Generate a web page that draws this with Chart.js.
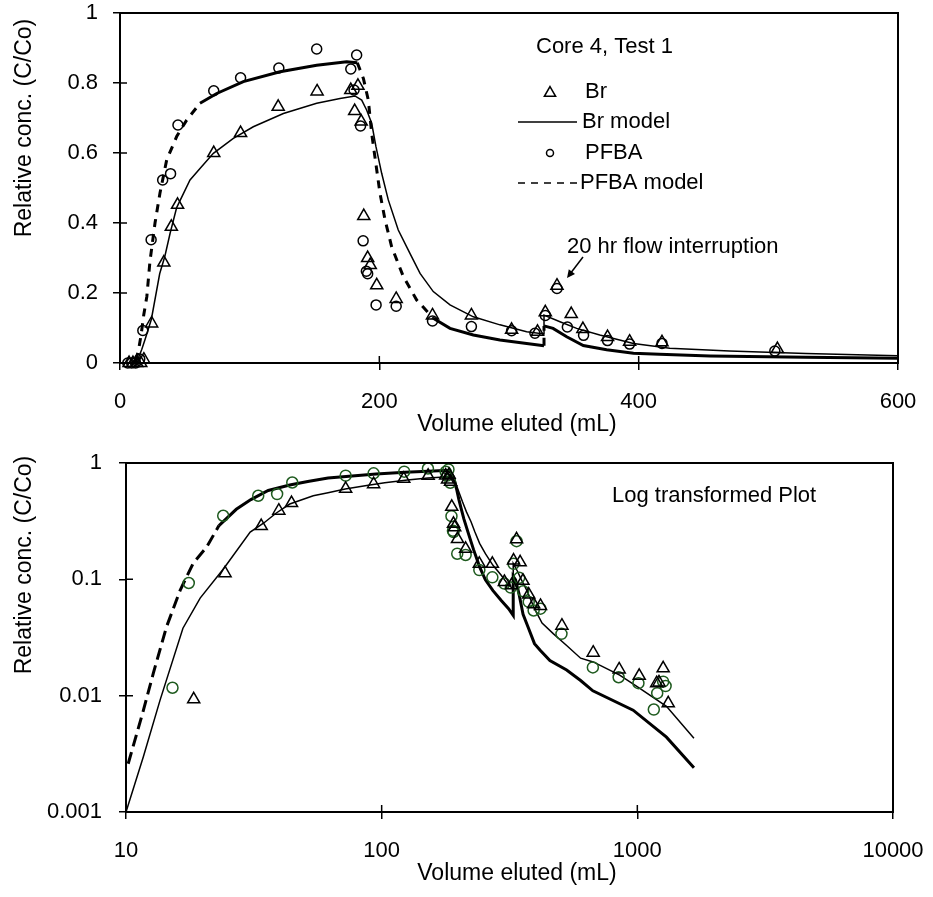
<!DOCTYPE html>
<html lang="en">
<head>
<meta charset="utf-8">
<title>Core 4, Test 1 breakthrough curves</title>
<script src="https://cdn.jsdelivr.net/npm/chart.js@4.4.1/dist/chart.umd.min.js"></script>
<style>
  html, body { margin: 0; padding: 0; background: #fff; }
  #page { position: relative; width: 933px; height: 897px; overflow: hidden; }
  #page canvas { position: absolute; left: 0; }
  #linChart { top: 0; }
  #logChart { top: 450px; }
</style>
</head>
<body>
<div id="page">
  <canvas id="linChart" width="933" height="450"></canvas>
  <canvas id="logChart" width="933" height="447"></canvas>
</div>
<script>
// Core 4, Test 1
// volume eluted in mL, relative concentration C/Co

const brVol  = [7, 10, 13, 16, 18.4, 24.4, 33.8, 39.6, 44.4, 72.3, 93, 122, 152, 178, 183.5, 181, 186, 188, 191, 193, 198, 213, 241, 271, 302, 322, 328, 337, 348, 357, 376, 393, 418, 507, 672, 849, 1017, 1190, 1215, 1262, 1321];
const brConc = [0, 0, 0, 0, 0.0093, 0.113, 0.287, 0.389, 0.452, 0.6, 0.657, 0.732, 0.776, 0.78, 0.792, 0.72, 0.69, 0.42, 0.3, 0.28, 0.222, 0.183, 0.136, 0.136, 0.095, 0.089, 0.145, 0.221, 0.14, 0.097, 0.074, 0.061, 0.059, 0.04, 0.0234, 0.0168, 0.0148, 0.0128, 0.013, 0.0172, 0.0086];

const pfbaVol  = [6, 9, 12, 15.2, 17.6, 24, 32.9, 39, 44.7, 72.3, 93, 122.5, 151.7, 178, 182.5, 180.5, 185.5, 187.5, 190, 191, 197.5, 213, 241, 271, 302, 320, 328, 337, 345, 357.5, 376, 393, 418, 505, 670, 845, 1010, 1160, 1196, 1262, 1290];
const pfbaConc = [0, 0, 0, 0.0117, 0.093, 0.352, 0.523, 0.541, 0.68, 0.778, 0.815, 0.843, 0.897, 0.84, 0.88, 0.78, 0.677, 0.349, 0.262, 0.255, 0.166, 0.162, 0.12, 0.104, 0.092, 0.085, 0.136, 0.213, 0.103, 0.079, 0.064, 0.054, 0.056, 0.034, 0.0175, 0.0144, 0.0128, 0.0076, 0.0105, 0.0132, 0.0121];

const brModelVol  = [10, 11.7, 13.6, 16.7, 19.5, 24.2, 30.6, 34.6, 38.6, 43.7, 54, 61.7, 72, 87.4, 102.8, 126, 151.7, 169.7, 181.2, 186.4, 190.2, 194.1, 197.4, 201.8, 206.9, 214.6, 223.6, 231.4, 241.6, 254.5, 272.5, 293, 313.6, 327, 327, 339.3, 352.2, 370, 396, 424, 470, 529, 600, 672, 853, 1019, 1300, 1665];
const brModelConc = [0.001, 0.003, 0.0092, 0.038, 0.069, 0.125, 0.255, 0.305, 0.37, 0.444, 0.523, 0.556, 0.599, 0.642, 0.675, 0.713, 0.742, 0.756, 0.763, 0.751, 0.723, 0.685, 0.618, 0.542, 0.466, 0.38, 0.313, 0.256, 0.204, 0.166, 0.132, 0.109, 0.089, 0.083, 0.137, 0.118, 0.099, 0.08, 0.056, 0.042, 0.034, 0.027, 0.021, 0.0195, 0.015, 0.0116, 0.0081, 0.0043];

const pfbaModelVol  = [10.2, 11.7, 12.8, 14.4, 16.3, 18.3, 20.7, 23.1, 27, 30.8, 36, 43.7, 51.4, 61.7, 74.6, 95.1, 123.4, 151.7, 174.8, 183, 187.7, 191.5, 194.1, 196.6, 200.5, 204.4, 209.5, 218.5, 228.8, 241.6, 254.5, 272.5, 293, 313.6, 327, 327, 334, 344.5, 357.3, 375.3, 396, 416, 455, 529, 600, 670, 963, 1300, 1665];
const pfbaModelConc = [0.0026, 0.0075, 0.0157, 0.039, 0.081, 0.137, 0.19, 0.29, 0.4, 0.485, 0.58, 0.647, 0.694, 0.742, 0.77, 0.804, 0.832, 0.851, 0.861, 0.858, 0.813, 0.751, 0.656, 0.589, 0.485, 0.409, 0.332, 0.247, 0.18, 0.128, 0.099, 0.08, 0.066, 0.056, 0.049, 0.106, 0.099, 0.075, 0.05, 0.038, 0.028, 0.0247, 0.02, 0.0166, 0.0135, 0.011, 0.0075, 0.0044, 0.0024];

const linXTicks = [0, 200, 400, 600];
const linYTicks = [0, 0.2, 0.4, 0.6, 0.8, 1];
const logXTicks = [10, 100, 1000, 10000];
const logYTicks = [0.001, 0.01, 0.1, 1];

const FONT = "'Liberation Sans', Arial, Helvetica, sans-serif";
Chart.defaults.font.family = FONT;
Chart.defaults.font.size = 22;
Chart.defaults.color = '#000';

const toPoints = (xs, ys) => xs.map((x, i) => ({ x: x, y: ys[i] }));
const aboveZero = pts => pts.filter(p => p.y > 0);

// linear plot: the dashes of the dense model curve only show on its steep parts
const steepDash = dash => ctx =>
  Math.abs(ctx.p1.y - ctx.p0.y) > Math.abs(ctx.p1.x - ctx.p0.x) ? dash : undefined;
// log plot: only the sparse early part of the curve keeps its dashes
const earlyDash = (dash, until) => ctx =>
  ctx.p1.parsed.x <= until ? dash : undefined;

function makeAxis(type, min, max, tickValues, pad, fit) {
  return {
    type: type,
    min: min,
    max: max,
    afterBuildTicks: scale => { scale.ticks = tickValues.map(v => ({ value: v })); },
    afterFit: scale => {
      fit(scale);
      // labels may overhang the plot edges, the frame stays put
      scale.paddingTop = 0;
      scale.paddingBottom = 0;
      scale.paddingLeft = 0;
      scale.paddingRight = 0;
    },
    ticks: { padding: pad, autoSkip: false, maxRotation: 0, color: '#000', callback: v => String(v) },
    grid: { drawOnChartArea: false, tickLength: 7, color: '#000', lineWidth: 1.5 },
    border: { color: '#000', width: 2 }
  };
}

function markerSet(label, pts, style, radius, color) {
  return {
    label: label,
    data: pts,
    showLine: false,
    pointStyle: style,
    pointRadius: radius,
    pointBorderWidth: 1.5,
    pointBorderColor: color,
    pointBackgroundColor: 'rgba(0,0,0,0)',
    clip: false
  };
}

function modelSet(label, pts, width, dashFn) {
  return {
    label: label,
    data: pts,
    showLine: true,
    borderColor: '#000',
    borderWidth: width,
    pointRadius: 0,
    tension: 0,
    segment: dashFn ? { borderDash: dashFn } : undefined
  };
}

// box round the plot area plus the inner half of each tick mark
const framePlugin = {
  id: 'frame',
  afterDraw(chart) {
    const { ctx, chartArea: a, scales } = chart;
    ctx.save();
    ctx.strokeStyle = '#000';
    ctx.lineWidth = 2;
    ctx.strokeRect(a.left, a.top, a.right - a.left, a.bottom - a.top);
    ctx.lineWidth = 1.5;
    ctx.beginPath();
    scales.x.ticks.forEach(t => {
      const px = scales.x.getPixelForValue(t.value);
      ctx.moveTo(px, a.bottom);
      ctx.lineTo(px, a.bottom - 7);
    });
    scales.y.ticks.forEach(t => {
      const py = scales.y.getPixelForValue(t.value);
      ctx.moveTo(a.left, py);
      ctx.lineTo(a.left + 7, py);
    });
    ctx.stroke();
    ctx.restore();
  }
};

// axis titles sit where the original put them (not centred on the axes)
const titlesPlugin = {
  id: 'titles',
  afterDraw(chart, args, opts) {
    const ctx = chart.ctx;
    ctx.save();
    ctx.fillStyle = '#000';
    ctx.font = '23px ' + FONT;
    ctx.textAlign = 'center';
    ctx.textBaseline = 'middle';
    ctx.fillText(opts.xText, opts.xAt[0], opts.xAt[1]);
    ctx.translate(opts.yAt[0], opts.yAt[1]);
    ctx.rotate(-Math.PI / 2);
    ctx.fillText(opts.yText, 0, 0);
    ctx.restore();
  }
};

function symbol(ctx, style, radius, x, y) {
  ctx.save();
  ctx.fillStyle = 'rgba(0,0,0,0)';
  ctx.strokeStyle = '#000';
  Chart.helpers.drawPoint(ctx, { pointStyle: style, radius: radius, borderWidth: 1.5, rotation: 0 }, x, y);
  ctx.restore();
}

// legend block and flow interruption note of the linear plot
const linNotes = {
  id: 'linNotes',
  afterDraw(chart) {
    const ctx = chart.ctx;
    ctx.save();
    ctx.fillStyle = '#000';
    ctx.strokeStyle = '#000';
    ctx.font = '22px ' + FONT;
    ctx.textBaseline = 'middle';
    ctx.textAlign = 'left';

    ctx.fillText('Core 4, Test 1', 536, 47);

    symbol(ctx, 'triangle', 6.5, 550, 93);
    ctx.fillText('Br', 585, 92);

    ctx.lineWidth = 1.5;
    ctx.beginPath();
    ctx.moveTo(518, 122);
    ctx.lineTo(577, 122);
    ctx.stroke();
    ctx.fillText('Br model', 582, 122);

    symbol(ctx, 'circle', 3.5, 550, 153);
    ctx.fillText('PFBA', 585, 153);

    ctx.setLineDash([7, 6]);
    ctx.beginPath();
    ctx.moveTo(518, 183);
    ctx.lineTo(577, 183);
    ctx.stroke();
    ctx.setLineDash([]);
    ctx.fillText('PFBA model', 580, 183);

    ctx.fillText('20 hr flow interruption', 567, 247);
    const x0 = 583, y0 = 257, x1 = 567, y1 = 278;
    const ang = Math.atan2(y1 - y0, x1 - x0);
    ctx.beginPath();
    ctx.moveTo(x0, y0);
    ctx.lineTo(x1 - 4 * Math.cos(ang), y1 - 4 * Math.sin(ang));
    ctx.stroke();
    ctx.beginPath();
    ctx.moveTo(x1, y1);
    ctx.lineTo(x1 - 9 * Math.cos(ang - 0.45), y1 - 9 * Math.sin(ang - 0.45));
    ctx.lineTo(x1 - 9 * Math.cos(ang + 0.45), y1 - 9 * Math.sin(ang + 0.45));
    ctx.closePath();
    ctx.fill();
    ctx.restore();
  }
};

const logNotes = {
  id: 'logNotes',
  afterDraw(chart) {
    const ctx = chart.ctx;
    ctx.save();
    ctx.fillStyle = '#000';
    ctx.font = '22px ' + FONT;
    ctx.textBaseline = 'middle';
    ctx.textAlign = 'left';
    ctx.fillText('Log transformed Plot', 612, 46);
    ctx.restore();
  }
};

const common = {
  responsive: false,
  animation: false,
  devicePixelRatio: 1,
  events: []
};

new Chart(document.getElementById('linChart'), {
  type: 'scatter',
  data: {
    datasets: [
      markerSet('Br', toPoints(brVol, brConc), 'triangle', 7, '#000'),
      markerSet('PFBA', toPoints(pfbaVol, pfbaConc), 'circle', 5, '#000'),
      modelSet('Br model', toPoints(brModelVol, brModelConc), 1.5, null),
      modelSet('PFBA model', toPoints(pfbaModelVol, pfbaModelConc), 3, steepDash([8, 7]))
    ]
  },
  options: Object.assign({}, common, {
    layout: { padding: { top: 13, right: 35, left: 0, bottom: 0 } },
    scales: {
      x: makeAxis('linear', 0, 600, linXTicks, 19, s => { s.height = 87; }),
      y: makeAxis('linear', 0, 1, linYTicks, 15, s => { s.width = 120; })
    },
    plugins: {
      legend: { display: false },
      tooltip: { enabled: false },
      titles: { xText: 'Volume eluted (mL)', xAt: [517, 425], yText: 'Relative conc. (C/Co)', yAt: [25, 128] }
    }
  }),
  plugins: [framePlugin, titlesPlugin, linNotes]
});

new Chart(document.getElementById('logChart'), {
  type: 'scatter',
  data: {
    datasets: [
      markerSet('Br', aboveZero(toPoints(brVol, brConc)), 'triangle', 7, '#000'),
      markerSet('PFBA', aboveZero(toPoints(pfbaVol, pfbaConc)), 'circle', 5.5, '#1e5a1e'),
      modelSet('Br model', toPoints(brModelVol, brModelConc), 1.5, null),
      modelSet('PFBA model', toPoints(pfbaModelVol, pfbaModelConc), 3, earlyDash([12, 6], 24))
    ]
  },
  options: Object.assign({}, common, {
    layout: { padding: { top: 13, right: 40, left: 0, bottom: 0 } },
    scales: {
      x: makeAxis('logarithmic', 10, 10000, logXTicks, 19, s => { s.height = 85; }),
      y: makeAxis('logarithmic', 0.001, 1, logYTicks, 17, s => { s.width = 126; })
    },
    plugins: {
      legend: { display: false },
      tooltip: { enabled: false },
      titles: { xText: 'Volume eluted (mL)', xAt: [517, 424], yText: 'Relative conc. (C/Co)', yAt: [25, 115] }
    }
  }),
  plugins: [framePlugin, titlesPlugin, logNotes]
});
</script>
</body>
</html>
